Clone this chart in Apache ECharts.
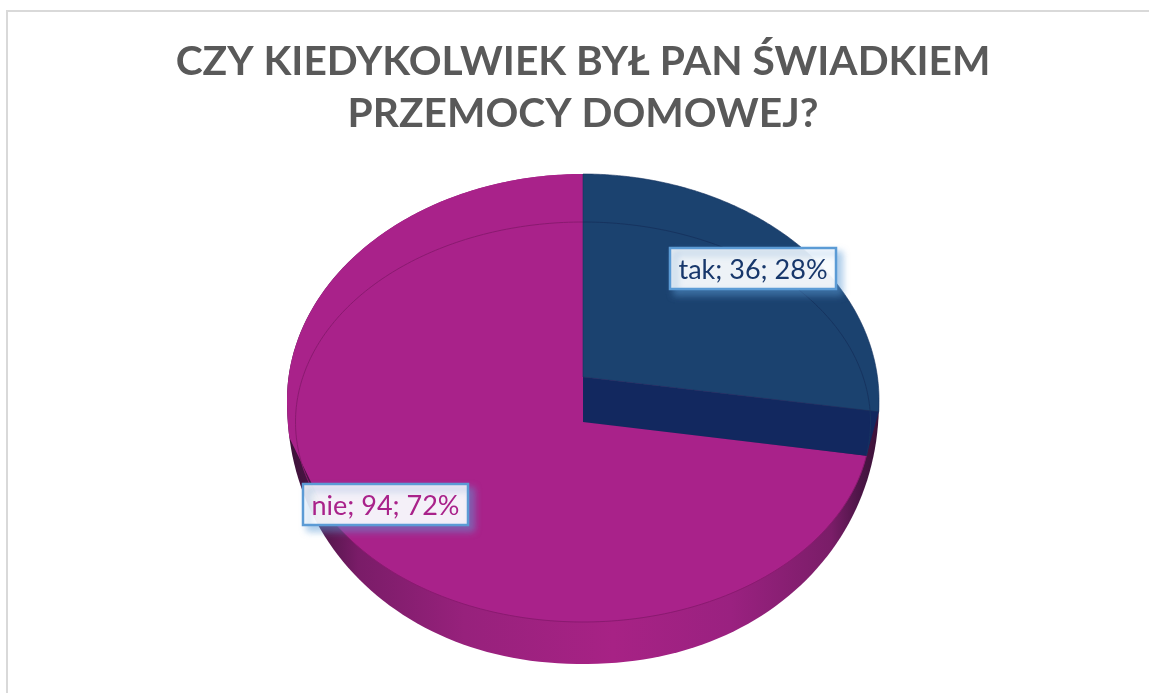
<!DOCTYPE html>
<html><head><meta charset="utf-8">
<style>html,body{margin:0;padding:0;background:#fff}#c{width:1149px;height:693px}</style>
<script src="https://cdn.jsdelivr.net/npm/echarts@6/dist/echarts.min.js"></script>
</head><body><div id="c"></div>
<script>
var titleText = 'CZY KIEDYKOLWIEK BYŁ PAN ŚWIADKIEM\nPRZEMOCY DOMOWEJ?';
var categories = ['tak', 'nie'];
var counts = [36, 94];

var total = counts.reduce(function (a, b) { return a + b; }, 0);
var PIE = {
  cx: 583, outerRx: 296,
  blueCy: 377, topRy: 203,
  faceCy: 422, faceRx: 287.5, faceRy: 200,
  silCy: 400, silTop: 226, silBottom: 264, silPow: 2.1
};
var labelBoxes = [
  { x: 670, y: 248, w: 166, h: 41, color: '#17376B' },
  { x: 303, y: 484, w: 165, h: 41, color: '#A9228A' }
];
var faceColors = ['#1B426F', '#A9228A'];
var wallBlue = '#12285F';

function ell(cx, cy, rx, ry, a) { // a: clockwise from 12 o'clock
  return [cx + rx * Math.sin(a), cy - ry * Math.cos(a)];
}
function arc(cx, cy, rx, ry, a0, a1) {
  var pts = [], n = 120;
  for (var i = 0; i <= n; i++) pts.push(ell(cx, cy, rx, ry, a0 + (a1 - a0) * i / n));
  return pts;
}
function silhouette(a) { // outline of the tilted disc: nearer half is fuller
  var s = Math.sin(a), c = Math.cos(a);
  if (c > 0) return [PIE.cx + PIE.outerRx * s, PIE.silCy - PIE.silTop * c];
  var e = 2 / PIE.silPow;
  return [PIE.cx + PIE.outerRx * (s < 0 ? -1 : 1) * Math.pow(Math.abs(s), e),
          PIE.silCy + PIE.silBottom * Math.pow(Math.abs(c), e)];
}
function silArc(a0, a1) {
  var pts = [], n = 160;
  for (var i = 0; i <= n; i++) pts.push(silhouette(a0 + (a1 - a0) * i / n));
  return pts;
}
var TWO_PI = Math.PI * 2;
var split = counts[0] / total * TWO_PI;

// where the slice's radius, drawn from the raised centre, meets the outline
function rimAngle() {
  var dx = PIE.outerRx * Math.sin(split), dy = -PIE.topRy * Math.cos(split);
  for (var t = 0; t < Math.PI; t += 0.001) {
    var p = silhouette(t);
    if ((p[0] - PIE.cx) * dy - (p[1] - PIE.blueCy) * dx < 0) return t;
  }
  return split;
}

function renderNie() {
  var P = PIE, kids = [];
  kids.push({ type: 'polygon', shape: { points: silArc(split * 0.9, TWO_PI) },
    style: { fill: new echarts.graphic.LinearGradient(0, 0, 1, 0, [
      { offset: 0, color: '#3c1238' }, { offset: 0.05, color: '#4c1546' },
      { offset: 0.12, color: '#7a1c68' }, { offset: 0.3, color: '#97217c' },
      { offset: 0.55, color: '#a72285' }, { offset: 0.75, color: '#9a2180' },
      { offset: 0.92, color: '#7a1d68' }, { offset: 0.97, color: '#4a1545' }, { offset: 1, color: '#3c1238' }
    ]) } });
  var frontEnd = 1.5 * Math.PI - 0.45, backStart = 1.5 * Math.PI - 0.13;
  var front = arc(P.cx, P.faceCy, P.faceRx, P.faceRy, split, frontEnd);
  var back = silArc(backStart, TWO_PI);
  kids.push({ type: 'polygon', shape: { points: [[P.cx, P.faceCy]].concat(front, back) }, style: { fill: faceColors[1] } });
  kids.push({ type: 'polyline', shape: { points: front }, style: { fill: null, stroke: '#8A1A70', lineWidth: 1 } });
  kids.push({ type: 'polyline', shape: { points: arc(P.cx, P.faceCy, P.faceRx, P.faceRy, frontEnd, TWO_PI) },
    style: { fill: null, stroke: '#8A1A70', lineWidth: 1 } });
  return { type: 'group', children: kids };
}
function renderTak() {
  var P = PIE, kids = [];
  var rim = rimAngle();
  var c0 = silhouette(rim);
  var c1 = ell(P.cx, P.faceCy, P.faceRx, P.faceRy, split);
  kids.push({ type: 'polygon', shape: { points: [[P.cx, P.blueCy], c0, c1, [P.cx, P.faceCy]] },
    style: { fill: wallBlue } });
  kids.push({ type: 'polygon', shape: { points: [[P.cx, P.blueCy]].concat(silArc(0, rim)) },
    style: { fill: faceColors[0], stroke: '#16335F', lineWidth: 0.6 } });
  kids.push({ type: 'polyline', shape: { points: arc(P.cx, P.faceCy, P.faceRx, P.faceRy, 0, split) },
    style: { fill: null, stroke: '#16335F', lineWidth: 1 } });
  return { type: 'group', children: kids };
}
function renderLabel(params, api) {
  var i = params.dataIndex, b = labelBoxes[i];
  var pct = Math.round(api.value(0) / total * 100);
  var text = categories[i] + '; ' + api.value(0) + '; ' + pct + '%';
  return { type: 'group', children: [
    { type: 'rect', shape: { x: b.x, y: b.y, width: b.w, height: b.h },
      style: { fill: 'rgba(255,255,255,0.91)', stroke: '#5B9BD5', lineWidth: 2.5,
        shadowColor: 'rgba(91,155,213,0.55)', shadowBlur: 7, shadowOffsetX: 5, shadowOffsetY: 5 } },
    { type: 'text', style: { x: b.x + b.w / 2, y: b.y + b.h / 2 + 2, text: text, align: 'center', verticalAlign: 'middle',
        fill: b.color, fontFamily: 'Lato', fontSize: 27, fontWeight: 400 } }
  ] };
}
var seriesData = categories.map(function (n, i) { return { name: n, value: counts[i] }; });
var chart = echarts.init(document.getElementById('c'), null, { renderer: 'canvas' });
chart.setOption({
  animation: false,
  backgroundColor: '#fff',
  title: { text: titleText, left: 578, textAlign: 'center', top: 31,
    textStyle: { fontFamily: 'Lato', fontWeight: 'bold', fontSize: 40.7, lineHeight: 52, color: '#595959' } },
  graphic: [{ type: 'polyline', z: 100, shape: { points: [[7, 693], [7, 11], [1149, 11]] },
    style: { fill: null, stroke: '#D9D9D9', lineWidth: 2 } }],
  series: [
    { type: 'custom', name: categories[1], coordinateSystem: 'none', renderItem: renderNie, data: [seriesData[1]], z: 2 },
    { type: 'custom', name: categories[0], coordinateSystem: 'none', renderItem: renderTak, data: [seriesData[0]], z: 3 },
    { type: 'custom', coordinateSystem: 'none', renderItem: renderLabel, data: seriesData, z: 4 }
  ]
});
</script></body></html>
